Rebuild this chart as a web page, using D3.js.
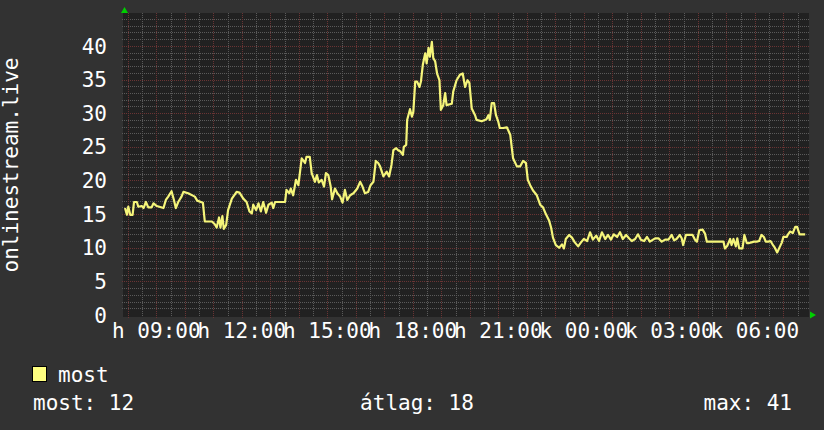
<!DOCTYPE html>
<html>
<head>
<meta charset="utf-8">
<script src="https://cdn.jsdelivr.net/npm/d3@7"></script>
<style>
  body { margin: 0; background: #323232; }
  text { font-family: "DejaVu Sans Mono", monospace; fill: #ffffff; }
</style>
</head>
<body>
<div id="chart"></div>
<script>
// minutes since midnight of the first day (07:54 .. 07:54 next day)
var minutes = [474,478,481,485,490,493,499,502,509,513,518,523,530,534,541,555,560,565,572,577,581,586,593,597,607,621,626,638,
  642,657,663,667,672,675,679,682,687,691,699,709,715,723,730,736,741,744,750,755,760,765,771,776,783,786,790,811,814,820,823,828,834,839,
  846,853,856,863,867,874,878,882,888,893,897,902,907,910,916,921,927,932,937,942,948,955,963,969,974,979,986,991,997,1002,1007,
  1011,1018,1025,1030,1035,1039,1045,1049,1054,1059,1061,1066,1068,1074,1078,1081,1085,1089,1094,1097,1101,1106,1109,1113,1116,1120,
  1123,1127,1131,1136,1139,1144,1148,1151,1162,1165,1172,1179,1185,1190,1195,1199,1204,1211,1214,1225,1235,1239,1242,1246,1251,1255,
  1260,1263,1270,1278,1285,1291,1299,1306,1312,1318,1322,1327,1333,1341,1348,1354,1360,1367,1371,1375,1381,1388,1394,1398,1402,1409,
  1415,1421,1428,1434,1440,1447,1453,1459,1466,1472,1478,1485,1491,1497,1503,1510,1516,1522,1529,1535,1541,1548,1554,1560,1567,1573,
  1579,1590,1597,1604,1611,1618,1625,1630,1635,1642,1646,1649,1655,1662,1669,1674,1678,1683,1690,1695,1699,1709,1734,1737,1742,1748,
  1751,1755,1760,1763,1767,1774,1778,1783,1788,1793,1798,1804,1809,1814,1819,1823,1828,1833,1839,1842,1847,1853,1857,1860,1867,1870,
  1874,1880,1885,1889,1894,1906];

// viewers ("most")
var values = [15.9,14.9,16.1,14.9,14.9,16.8,16.8,16.1,16.2,15.9,16.8,16.0,16.0,16.6,16.2,15.9,17.1,17.6,18.4,17.1,15.9,16.8,17.6,18.3,18.1,17.6,17.0,16.7,
  13.9,13.9,13.5,13.0,14.5,13.0,14.7,12.8,13.4,15.6,17.3,18.3,18.2,17.3,16.8,15.4,15.1,16.4,15.6,16.6,15.4,16.8,15.2,16.4,16.7,15.9,16.8,16.8,18.6,18.1,18.8,17.8,20.1,19.3,
  23.3,22.6,23.5,23.5,21.1,19.8,20.8,19.7,20.1,19.1,21.1,20.8,19.1,17.2,18.8,18.1,17.6,16.7,18.6,17.1,17.8,18.1,18.8,19.8,19.1,18.1,18.3,19.3,19.8,22.9,22.6,
  22.1,20.6,21.3,20.6,22.3,24.5,24.8,24.5,24.3,23.8,25.0,25.3,29.0,30.6,29.5,30.2,34.7,34.7,33.9,34.7,37.2,38.9,37.4,39.7,38.4,40.6,
  38.2,37.7,35.9,34.9,30.5,31.2,33.0,31.2,31.4,33.2,34.9,35.7,35.9,33.9,34.9,34.5,30.7,29.7,29.0,28.8,29.1,29.7,29.0,31.5,31.5,29.7,
  28.7,27.8,27.8,27.9,26.8,23.3,22.1,22.1,22.9,22.6,20.1,19.3,18.5,17.8,16.4,16.0,15.0,14.0,13.0,11.5,10.4,10.0,10.5,9.9,11.3,11.9,
  11.5,10.8,10.2,10.8,11.3,11.0,12.3,11.2,11.8,11.0,12.3,11.3,11.9,11.2,12.0,11.6,12.3,11.3,11.9,11.4,11.0,11.3,12.0,11.2,11.0,11.6,
  10.9,11.4,11.4,10.9,11.2,11.2,11.9,11.1,11.3,11.9,11.4,10.4,11.9,11.9,11.9,11.2,10.9,12.6,12.7,12.1,10.9,10.9,10.9,9.9,10.3,11.3,
  10.4,11.3,10.2,11.4,9.9,9.9,11.9,10.7,10.7,10.8,10.9,10.9,11.0,11.9,11.6,10.9,10.9,11.0,10.3,10.0,9.3,10.2,10.8,11.6,11.6,12.0,
  12.4,12.2,13.1,13.1,12.0,12.0];

var yTicks = [0, 5, 10, 15, 20, 25, 30, 35, 40];
var xTickMinutes = [540, 720, 900, 1080, 1260, 1440, 1620, 1800];
var xTickLabels = ["h 09:00", "h 12:00", "h 15:00", "h 18:00", "h 21:00", "k 00:00", "k 03:00", "k 06:00"];
var yTitle = "onlinestream.live";
var seriesName = "most";
var statLabels = ["most: 12", "átlag: 18", "max: 41"];

var W = 824, H = 430;
var plotLeft = 125, plotRight = 809, plotTop = 15, plotBottom = 315;

var svg = d3.select("#chart").append("svg")
    .attr("width", W).attr("height", H);

svg.append("rect").attr("width", W).attr("height", H).style("fill", "#323232");

var x = d3.scaleLinear().domain([474, 1914]).range([plotLeft, plotRight]);
var y = d3.scaleLinear().domain([0, 44.6]).range([plotBottom, plotTop]);

// plot background
svg.append("rect")
    .attr("x", plotLeft - 2).attr("y", plotTop - 2)
    .attr("width", plotRight - plotLeft + 2).attr("height", plotBottom - plotTop + 4)
    .style("fill", "#212121");

// minor grid (every unit / every 30 min)
var grid = svg.append("g");
grid.selectAll(".hmin").data(d3.range(1, 45).filter(function(d) { return d % 5 != 0; }))
  .enter().append("line")
    .attr("x1", plotLeft - 3).attr("x2", plotRight)
    .attr("y1", function(d) { return Math.round(y(d)) + 0.5; })
    .attr("y2", function(d) { return Math.round(y(d)) + 0.5; })
    .style("stroke", "#5a5a5a").style("stroke-dasharray", "1,1");

grid.selectAll(".vmin").data(d3.range(480 + 30, 1914, 60))
  .enter().append("line")
    .attr("y1", plotTop - 2).attr("y2", plotBottom + 2)
    .attr("x1", function(d) { return Math.round(x(d)) + 0.5; })
    .attr("x2", function(d) { return Math.round(x(d)) + 0.5; })
    .style("stroke", "#5a5a5a").style("stroke-dasharray", "1,1");

// major grid (every 5 / every hour)
grid.selectAll(".hmaj").data(yTicks.slice(1))
  .enter().append("line")
    .attr("x1", plotLeft - 3).attr("x2", plotRight)
    .attr("y1", function(d) { return Math.round(y(d)) + 0.5; })
    .attr("y2", function(d) { return Math.round(y(d)) + 0.5; })
    .style("stroke", "#6a3434").style("stroke-dasharray", "1,1");

grid.selectAll(".vmaj").data(d3.range(480, 1914, 60))
  .enter().append("line")
    .attr("y1", plotTop - 2).attr("y2", plotBottom + 3)
    .attr("x1", function(d) { return Math.round(x(d)) + 0.5; })
    .attr("x2", function(d) { return Math.round(x(d)) + 0.5; })
    .style("stroke", "#6a3434").style("stroke-dasharray", "1,1");

// y labels
svg.selectAll(".ylab").data(yTicks)
  .enter().append("text")
    .attr("x", 107)
    .attr("y", function(d) { return y(d); })
    .attr("dy", "0.36em")
    .attr("text-anchor", "end")
    .style("font-size", "21px")
    .text(function(d) { return d; });

// x labels
svg.selectAll(".xlab").data(xTickMinutes)
  .enter().append("text")
    .attr("x", function(d) { return x(d); })
    .attr("y", 338)
    .attr("text-anchor", "middle")
    .style("font-size", "21px")
    .text(function(d, i) { return xTickLabels[i]; });

// y title
svg.append("text")
    .attr("transform", "translate(18,165) rotate(-90)")
    .attr("text-anchor", "middle")
    .style("font-size", "21px")
    .text(yTitle);

// arrows
svg.append("path")
    .attr("d", "M121,13 L128,13 L124.5,7 Z")
    .style("fill", "#00d000");
svg.append("path")
    .attr("d", "M810,311.5 L810,318.5 L816,315 Z")
    .style("fill", "#00d000");

// the line
var line = d3.line()
    .x(function(d, i) { return x(minutes[i]); })
    .y(function(d) { return y(d); });

svg.append("path")
    .datum(values)
    .attr("d", line)
    .style("fill", "none")
    .style("stroke", "#f5f57a")
    .style("stroke-width", 2.2)
    .style("stroke-linejoin", "round");

// legend
svg.append("rect")
    .attr("x", 32.5).attr("y", 366.5).attr("width", 14).attr("height", 15)
    .style("fill", "#ffff80").style("stroke", "#000");
svg.append("text")
    .attr("x", 58).attr("y", 382)
    .style("font-size", "21px")
    .text(seriesName);

svg.append("text").attr("x", 33).attr("y", 410).style("font-size", "21px").text(statLabels[0]);
svg.append("text").attr("x", 417).attr("y", 410).attr("text-anchor", "middle").style("font-size", "21px").text(statLabels[1]);
svg.append("text").attr("x", 792).attr("y", 410).attr("text-anchor", "end").style("font-size", "21px").text(statLabels[2]);
</script>
</body>
</html>
